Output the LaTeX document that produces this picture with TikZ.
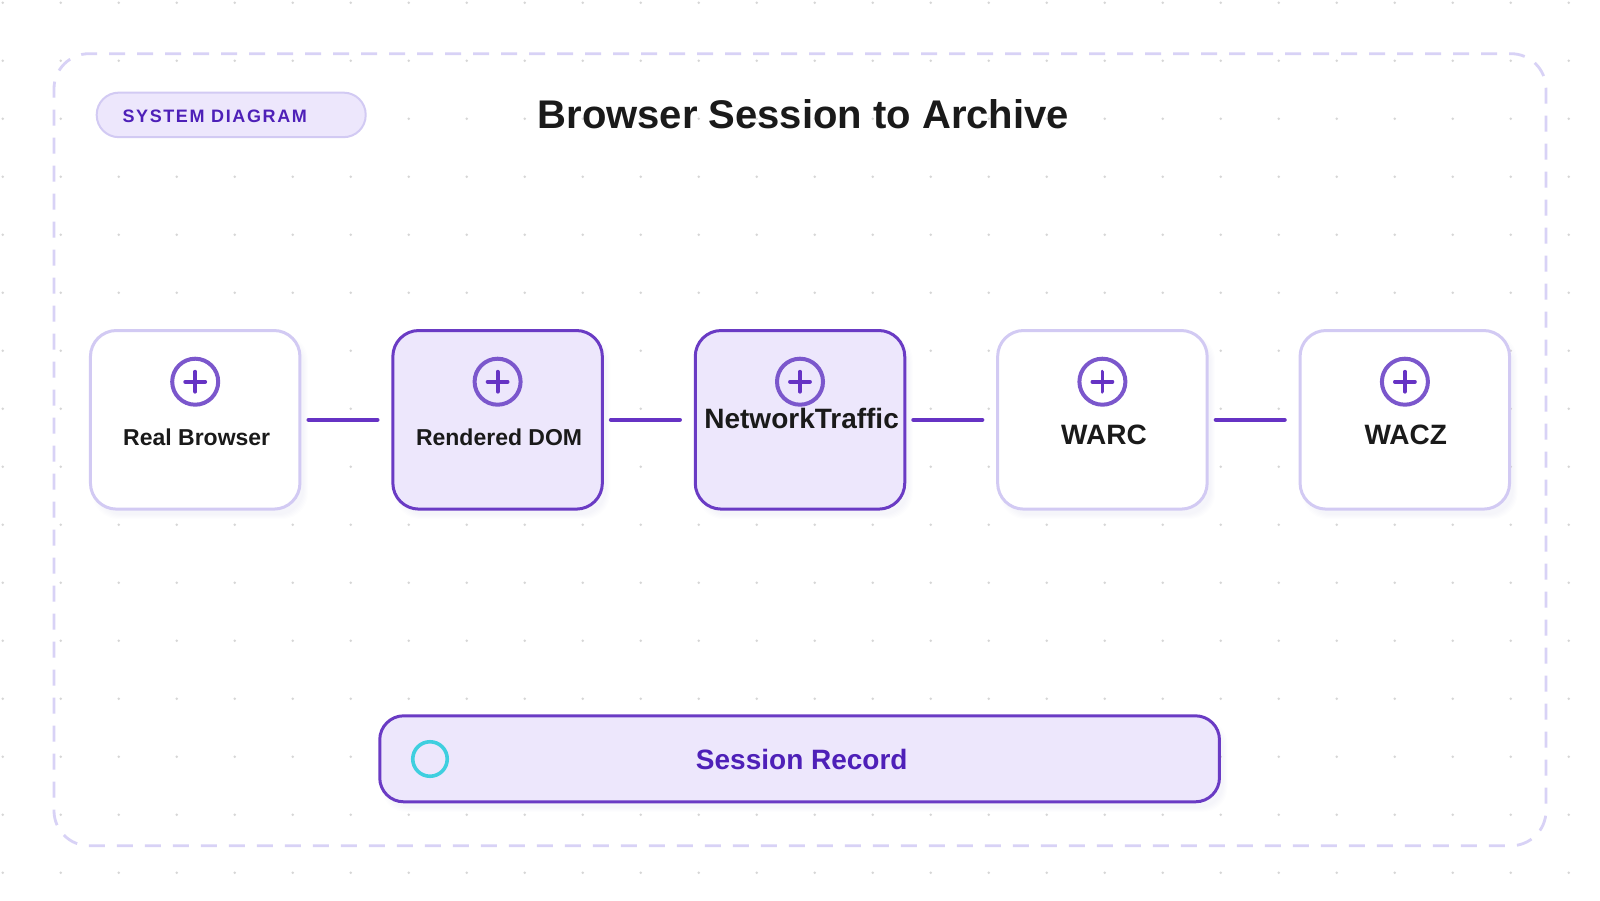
\documentclass[tikz,border=0pt]{standalone}
\usepackage{fontspec}
\setmainfont{Liberation Sans}
\newfontfamily\spacedfont[LetterSpace=9]{Liberation Sans}
\usetikzlibrary{calc}
\definecolor{purpleline}{HTML}{6A3BC4}
\definecolor{purpledeep}{HTML}{6633C4}
\definecolor{purpletext}{HTML}{4E20B8}
\definecolor{ringtone}{HTML}{7B57CC}
\definecolor{lilacfill}{HTML}{EDE7FC}
\definecolor{paleborder}{HTML}{D2CAF3}
\definecolor{frameborder}{HTML}{D8D2F6}
\definecolor{inkdark}{HTML}{1A1A1A}
\definecolor{dotgrey}{HTML}{D6D6D6}
\definecolor{cyanring}{HTML}{3FCFDF}
\definecolor{shadowtone}{HTML}{6A3BC4}
\tikzset{
  x=1pt,y=-1pt,
  boxbase/.style={rectangle,rounded corners=#1,inner sep=0pt,outer sep=0pt,anchor=center},
  plaincard/.style={boxbase=26pt,minimum width=209.5pt,minimum height=178.6pt,draw=paleborder,fill=white,line width=3pt},
  litcard/.style={boxbase=26pt,minimum width=209.5pt,minimum height=178.6pt,draw=purpleline,fill=lilacfill,line width=3pt},
  linkline/.style={draw=purpledeep,line width=4.4pt,line cap=round,shorten <=8.7pt,shorten >=15.5pt},
  iconring/.style={circle,minimum size=46pt,inner sep=0pt,outer sep=0pt,draw=ringtone,line width=4pt},
  iconplus/.style={draw=purpledeep,line width=3.8pt,line cap=round},
  smalllabel/.style={font=\bfseries\fontsize{23}{27}\selectfont,text=inkdark,anchor=base,inner sep=0pt},
  biglabel/.style={font=\bfseries\fontsize{28}{32}\selectfont,text=inkdark,anchor=base,inner sep=0pt},
}
\newcommand{\softshade}[5]{%
  \foreach \g in {0,1,2,3,4}{
    \fill[shadowtone,opacity=0.008,rounded corners=#5pt] (#1+6-\g,#2+8-\g) rectangle (#1+#3+4+\g,#2+#4+6+\g);
  }}
\newcommand{\cardicon}[2]{%
  \node[iconring] (#1) at (#2,381.7) {};
  \draw[iconplus] ($(#1.center)+(-10,0)$) -- ($(#1.center)+(10,0)$);
  \draw[iconplus] ($(#1.center)+(0,-10)$) -- ($(#1.center)+(0,10)$);
}
\begin{document}
\begin{tikzpicture}
\useasboundingbox (0,0) rectangle (1600,900);
\fill[white] (0,0) rectangle (1600,900);
% dotted backdrop
\foreach \i in {0,...,27}{\foreach \j in {0,...,15}{
  \fill[dotgrey] (2.7+58*\i,2.7+58*\j) circle[radius=1.35pt];
}}
% frame
\draw[draw=frameborder,line width=2.8pt,rounded corners=35pt,dash pattern=on 16pt off 12pt,dash phase=19pt]
  (800,53.7) -- (1546,53.7) -- (1546,845.7) -- (54,845.7) -- (54,53.7) -- (800,53.7);
% pill
\node[boxbase=22pt,minimum width=269pt,minimum height=44.5pt,draw=paleborder,fill=lilacfill,line width=2pt] (pill) at (231.2,114.9) {};
\node[font=\spacedfont\bfseries\fontsize{18}{22}\selectfont,text=purpletext,anchor=base west,inner sep=0pt] (pilltext) at (122.3,122.3) {SYSTEM DIAGRAM};
% title
\node[font=\bfseries\fontsize{40}{46}\selectfont,text=inkdark,anchor=base,inner sep=0pt] (title) at (803.3,128.5) {Browser Session to Archive};
% shadows
\softshade{90.45}{330.5}{209.5}{178.6}{26}
\softshade{392.85}{330.5}{209.5}{178.6}{26}
\softshade{695.25}{330.5}{209.5}{178.6}{26}
\softshade{997.65}{330.5}{209.5}{178.6}{26}
\softshade{1300.05}{330.5}{209.5}{178.6}{26}
\softshade{379.7}{715.8}{839.7}{86}{24}
% cards
\node[plaincard] (browser) at (195.2,419.8) {};
\node[litcard] (dom) at (497.6,419.8) {};
\node[litcard] (traffic) at (800,419.8) {};
\node[plaincard] (warc) at (1102.4,419.8) {};
\node[plaincard] (wacz) at (1404.8,419.8) {};
% connectors
\draw[linkline] (browser.east) -- (dom.west);
\draw[linkline] (dom.east) -- (traffic.west);
\draw[linkline] (traffic.east) -- (warc.west);
\draw[linkline] (warc.east) -- (wacz.west);
% icons
\cardicon{iconA}{195.2}
\cardicon{iconB}{497.6}
\cardicon{iconC}{800}
\cardicon{iconD}{1102.4}
\cardicon{iconE}{1404.9}
% labels
\node[smalllabel] (lblA) at (196.7,445) {Real Browser};
\node[smalllabel] (lblB) at (499.1,445) {Rendered DOM};
\node[biglabel] (lblC) at (801.6,428) {NetworkTraffic};
\node[biglabel] (lblD) at (1104,444.5) {WARC};
\node[biglabel] (lblE) at (1405.8,444.5) {WACZ};
% session bar
\node[boxbase=24pt,minimum width=839.7pt,minimum height=86pt,draw=purpleline,fill=lilacfill,line width=3pt] (session) at (799.6,758.8) {};
\node[circle,minimum size=34.5pt,inner sep=0pt,outer sep=0pt,draw=cyanring,line width=3.6pt] (sessiondot) at (430,759) {};
\node[biglabel,text=purpletext] (sessiontext) at (801.8,769) {Session Record};
\end{tikzpicture}
\end{document}
